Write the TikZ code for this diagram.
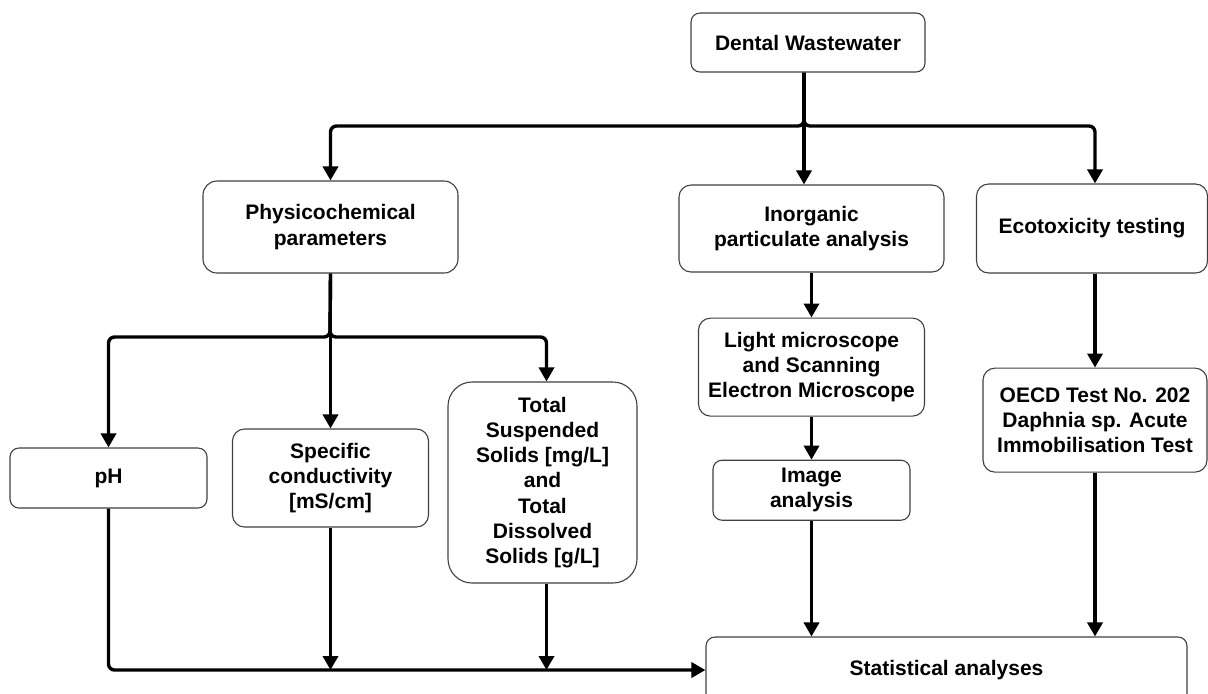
\documentclass[tikz,border=0pt]{standalone}
\usepackage{fontspec}
\setmainfont{Liberation Sans}
\usepackage{tikz}
\usetikzlibrary{arrows.meta, positioning, calc}

\begin{document}
\begin{tikzpicture}[x=0.5pt, y=-0.5pt,
    box/.style={rectangle, rounded corners=4.5pt, draw=black!75, line width=0.55pt, fill=white, text=black, align=center, inner sep=2pt, font=\fontsize{10.5}{12.6}\selectfont\bfseries},
    flow/.style={line width=1.7pt, rounded corners=3pt, -{Triangle[length=7pt, width=7.5pt]}}]
    \useasboundingbox (0,0) rectangle (1208,693);%page size
    \node (dental) [box, minimum width=117pt, minimum height=29.5pt] at (808,42.5){Dental Wastewater};%draws the source
    \coordinate (split) at (804,126);%top branch point
    \node (phys) [box, rounded corners=7pt, minimum width=127.5pt, minimum height=46pt] at (330.5,227){Physicochemical\\parameters};%draws physicochemical box
    \node (inorg) [box, rounded corners=6pt, minimum width=132.5pt, minimum height=43.5pt] at (811.5,228.5){Inorganic\\particulate analysis};%draws inorganic box
    \node (eco) [box, rounded corners=6pt, minimum width=115.5pt, minimum height=44.5pt] at (1092,228.5){Ecotoxicity testing};%draws ecotox box
    \node (light) [box, rounded corners=6pt, minimum width=113pt, minimum height=49pt, below=22.5pt of inorg]{Light microscope\\and Scanning\\Electron Microscope};%draws microscopy box
    \node (image) [box, minimum width=98.5pt, minimum height=30pt, below=21.5pt of light]{Image\\analysis};%draws image analysis
    \node (oecd) [box, rounded corners=6pt, minimum width=112pt, minimum height=52pt, below=47pt of eco, xshift=1.5pt]{OECD Test No. 202\\Daphnia sp. Acute\\Immobilisation Test};%draws OECD test
    \coordinate (split2) at (330,337);%second branch point
    \node (ph) [box, minimum width=98.5pt, minimum height=30pt] at (108.5,478){pH};%draws pH
    \node (spec) [box, rounded corners=6pt, minimum width=98pt, minimum height=49pt] at (330.5,478){Specific\\conductivity\\{[mS/cm]}};%draws conductivity
    \node (total) [box, rounded corners=12pt, minimum width=94.5pt, minimum height=100.5pt] at (542.5,482.5){Total\\Suspended\\Solids [mg/L]\\and\\Total\\Dissolved\\Solids [g/L]};%draws solids
    \node (stat) [box, minimum width=240.5pt, minimum height=33pt] at (946.5,670){Statistical analyses};%draws statistics
    \draw[flow] (dental.south -| split) -- (split) -| (phys.north);%to physicochemical
    \draw[flow] (dental.south -| split) -- (split) -| ($(eco.north)+(1.5pt,0)$);%to ecotox
    \draw[flow] (dental.south -| split) -- (inorg.north -| split);%to inorganic
    \draw[flow] (inorg) -- (light);%inorganic to microscopy
    \draw[flow] (light) -- (image);%microscopy to image
    \draw[flow] ($(eco.south)+(1.5pt,0)$) -- (oecd.north);%ecotox to OECD
    \draw[flow] (phys.south) -- (split2) -| (ph.north);%to pH
    \draw[flow] (phys.south) -- (spec.north);%to conductivity
    \draw[flow] (phys.south) -- (split2) -| ($(total.north)+(2pt,0)$);%to solids
    \draw[flow] (ph.south) |- (stat.west);%pH to statistics
    \draw[flow] (spec.south) -- (spec.south |- stat.west);%conductivity joins
    \draw[flow] ($(total.south)+(2pt,0)$) -- ($(total.south |- stat.west)+(2pt,0)$);%solids join
    \draw[flow] (image.south) -- (image.south |- stat.north);%image to statistics
    \draw[flow] (oecd.south) -- (oecd.south |- stat.north);%OECD to statistics
  \end{tikzpicture}
\end{document}
